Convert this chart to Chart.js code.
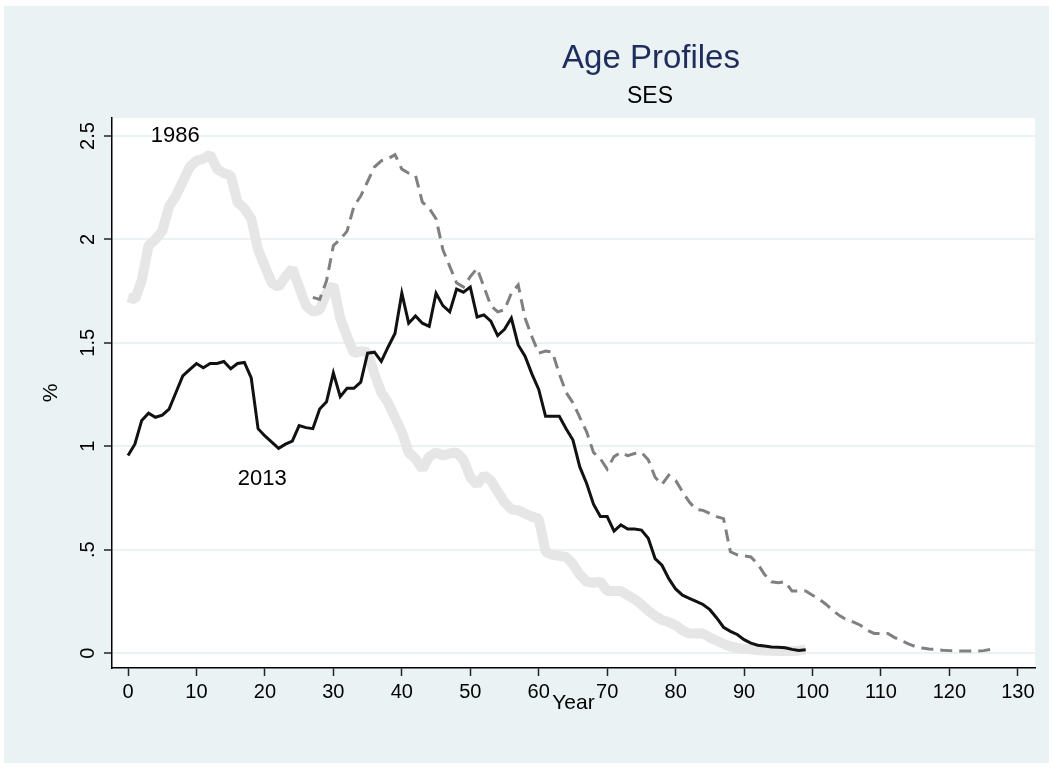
<!DOCTYPE html>
<html>
<head>
<meta charset="utf-8">
<title>Age Profiles</title>
<script src="https://cdn.jsdelivr.net/npm/chart.js@4.4.1/dist/chart.umd.min.js"></script>
<style>
    html, body { margin: 0; padding: 0; background: #fff; }
    #myChart { display: block; }
</style>
</head>
<body>
<canvas id="myChart" width="1053" height="768"></canvas>
<script>
// ages 0..99
var ages = Array.from({ length: 100 }, function (v, i) { return i; });

// 1986 profile (%)
var p1986 = [
    1.72, 1.71, 1.80, 1.97, 2.00, 2.04, 2.16, 2.21, 2.28, 2.35,
    2.38, 2.39, 2.41, 2.34, 2.32, 2.31, 2.18, 2.15, 2.10, 1.95,
    1.87, 1.79, 1.77, 1.82, 1.86, 1.77, 1.68, 1.65, 1.66, 1.74,
    1.78, 1.62, 1.53, 1.45, 1.46, 1.455, 1.35, 1.26, 1.21, 1.14,
    1.07, 0.97, 0.94, 0.89, 0.95, 0.97, 0.955, 0.965, 0.97, 0.935,
    0.85, 0.815, 0.86, 0.835, 0.78, 0.73, 0.695, 0.69, 0.675, 0.66,
    0.65, 0.49, 0.475, 0.47, 0.465, 0.43, 0.38, 0.345, 0.34, 0.345,
    0.30, 0.30, 0.30, 0.28, 0.26, 0.235, 0.205, 0.18, 0.16, 0.15,
    0.135, 0.11, 0.095, 0.095, 0.095, 0.075, 0.06, 0.045, 0.032, 0.025,
    0.02, 0.018, 0.014, 0.012, 0.011, 0.01, 0.01, 0.01, 0.012, 0.018
];

// 2013 profile (%)
var p2013 = [
    0.955, 1.01, 1.125, 1.16, 1.14, 1.15, 1.18, 1.26, 1.34, 1.37,
    1.40, 1.38, 1.40, 1.40, 1.41, 1.375, 1.40, 1.405, 1.33, 1.085,
    1.05, 1.02, 0.99, 1.01, 1.025, 1.10, 1.09, 1.085, 1.18, 1.215,
    1.355, 1.24, 1.28, 1.28, 1.31, 1.45, 1.455, 1.41, 1.48, 1.545,
    1.74, 1.595, 1.63, 1.595, 1.58, 1.74, 1.68, 1.65, 1.76, 1.745,
    1.77, 1.625, 1.635, 1.605, 1.535, 1.565, 1.62, 1.49, 1.435, 1.35,
    1.275, 1.145, 1.145, 1.145, 1.085, 1.03, 0.90, 0.82, 0.72, 0.66,
    0.66, 0.59, 0.62, 0.60, 0.60, 0.595, 0.555, 0.457, 0.425, 0.36,
    0.31, 0.28, 0.265, 0.25, 0.235, 0.21, 0.17, 0.125, 0.105, 0.09,
    0.065, 0.048, 0.038, 0.034, 0.03, 0.028, 0.026, 0.018, 0.013, 0.016
];

// 1986 profile moved forward 27 years (dashed line)
var shiftYears = 27;
var agesShifted = ages.map(function (a) { return a + shiftYears; });

var xTicks = [0, 10, 20, 30, 40, 50, 60, 70, 80, 90, 100, 110, 120, 130];
var yTicks = [0, 0.5, 1, 1.5, 2, 2.5];

var FONT = "'Liberation Sans', Arial, Helvetica, sans-serif";

function toPoints(xs, ys) {
    return xs.map(function (x, i) { return { x: x, y: ys[i] }; });
}

function yLabel(v) {
    return String(v).replace(/^0\./, '.');
}

var stataLook = {
    id: 'stataLook',
    beforeDraw: function (chart) {
        var ctx = chart.ctx, a = chart.chartArea;
        ctx.save();
        ctx.fillStyle = '#ffffff';
        ctx.fillRect(0, 0, chart.width, chart.height);
        ctx.fillStyle = '#eaf2f3';
        ctx.fillRect(4, 6, chart.width - 8, chart.height - 11);
        ctx.fillStyle = '#ffffff';
        ctx.fillRect(a.left, a.top, a.right - a.left, a.bottom - a.top);
        ctx.restore();
    },
    afterDraw: function (chart) {
        var ctx = chart.ctx;
        var xs = chart.scales.x, ys = chart.scales.y;
        ctx.save();
        ctx.textAlign = 'center';
        ctx.textBaseline = 'middle';

        // titles
        ctx.fillStyle = '#1e2d5c';
        ctx.font = '33px ' + FONT;
        ctx.fillText('Age Profiles', 651, 59);
        ctx.fillStyle = '#000';
        ctx.font = '23px ' + FONT;
        ctx.fillText('SES', 650, 97);

        // series labels
        ctx.font = '22px ' + FONT;
        ctx.fillText('1986', xs.getPixelForValue(6.9), ys.getPixelForValue(2.5));
        ctx.fillText('2013', xs.getPixelForValue(19.6), ys.getPixelForValue(0.84));

        // vertical y tick labels
        ctx.font = '20px ' + FONT;
        yTicks.forEach(function (v) {
            ctx.save();
            ctx.translate(88, ys.getPixelForValue(v));
            ctx.rotate(-Math.PI / 2);
            ctx.fillText(yLabel(v), 0, 0);
            ctx.restore();
        });
        ctx.restore();
    }
};

new Chart('myChart', {
    type: 'line',
    data: {
        datasets: [{
            label: '2013',
            data: toPoints(ages, p2013),
            borderColor: '#111111',
            borderWidth: 3,
            fill: false,
            order: 0
        }, {
            label: '1986 (+27)',
            data: toPoints(agesShifted, p1986),
            borderColor: '#808080',
            borderWidth: 3,
            borderDash: [12, 7],
            fill: false,
            order: 1
        }, {
            label: '1986',
            data: toPoints(ages, p1986),
            borderColor: '#e6e6e6',
            borderWidth: 10,
            borderJoinStyle: 'bevel',
            fill: false,
            order: 2
        }]
    },
    options: {
        responsive: false,
        animation: false,
        layout: { padding: { left: 0, right: 18, top: 118, bottom: 0 } },
        elements: { point: { radius: 0 }, line: { tension: 0 } },
        plugins: {
            legend: { display: false },
            tooltip: { enabled: false }
        },
        scales: {
            x: {
                type: 'linear',
                min: -2.34,
                max: 132.5,
                afterBuildTicks: function (scale) {
                    scale.ticks = xTicks.map(function (v) { return { value: v }; });
                },
                afterFit: function (scale) { scale.height = 100; },
                grid: {
                    drawOnChartArea: false,
                    drawTicks: true,
                    tickLength: 8,
                    tickColor: '#222',
                    tickWidth: 1.5
                },
                border: { color: '#000', width: 1.5 },
                ticks: {
                    autoSkip: false,
                    maxRotation: 0,
                    padding: 4,
                    color: '#000',
                    font: { family: FONT, size: 20 }
                },
                title: {
                    display: true,
                    text: 'Year',
                    color: '#000',
                    font: { family: FONT, size: 21 },
                    padding: { top: 0, bottom: 52 }
                }
            },
            y: {
                type: 'linear',
                min: -0.072,
                max: 2.587,
                afterBuildTicks: function (scale) {
                    scale.ticks = yTicks.map(function (v) { return { value: v }; });
                },
                afterFit: function (scale) { scale.width = 112; },
                grid: {
                    color: '#eaf2f3',
                    lineWidth: 2,
                    drawTicks: true,
                    tickLength: 8,
                    tickColor: '#222',
                    tickWidth: 1.5
                },
                border: { color: '#000', width: 1.5 },
                ticks: {
                    color: 'rgba(0,0,0,0)',
                    font: { family: FONT, size: 20 }
                },
                title: {
                    display: true,
                    text: '%',
                    color: '#000',
                    font: { family: FONT, size: 21 },
                    padding: { top: 39, bottom: 0 }
                }
            }
        }
    },
    plugins: [stataLook]
});
</script>
</body>
</html>
